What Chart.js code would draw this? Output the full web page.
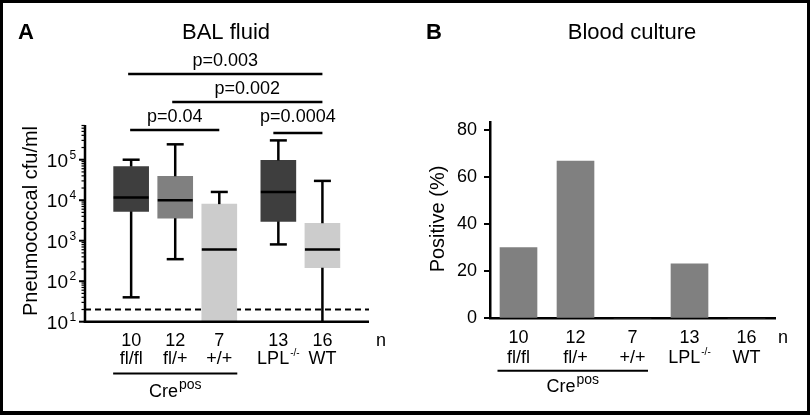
<!DOCTYPE html>
<html><head><meta charset="utf-8">
<script src="https://cdn.jsdelivr.net/npm/chart.js@4.4.1/dist/chart.umd.min.js"></script>
<style>
html,body{margin:0;padding:0;background:#fff;}
#wrap{position:relative;width:810px;height:415px;overflow:hidden;background:#fff;}
canvas{position:absolute;top:0;}
#frame{position:absolute;left:0;top:0;width:810px;height:415px;box-sizing:border-box;border:3px solid #000;border-bottom-width:4px;pointer-events:none;}
</style></head><body>
<div id="wrap">
<canvas id="cA" width="405" height="415" style="left:0;width:405px;height:415px"></canvas>
<canvas id="cB" width="405" height="415" style="left:405px;width:405px;height:415px"></canvas>
<div id="frame"></div>
</div>
<script>
// ---- data ----
const groups = ['fl/fl', 'fl/+', '+/+', 'LPL', 'WT'];
const groupSup = ['', '', '', '-/-', ''];
const nCounts = ['10', '12', '7', '13', '16'];
const groupPos = [1, 2, 3, 4.34, 5.34];
const whiskerLow = [40, 350, 10, 810, 10];
const q1 = [5300, 3600, 10, 3000, 215];
const median = [11700, 10000, 610, 16000, 610];
const q3 = [68000, 39000, 8000, 96000, 2700];
const whiskerHigh = [100000, 240000, 16000, 300000, 30000];
const detectionLimit = 20;
const logTickExps = [1, 2, 3, 4, 5];
const pFrom = [0, 1, 0, 3];
const pTo = [4, 4, 2, 4];
const pLabels = ['p=0.003', 'p=0.002', 'p=0.04', 'p=0.0004'];
const bloodPositive = [30, 66.7, 0, 23.1, 0];
const pctTicks = [0, 20, 40, 60, 80];

// ---- styling ----
const FONT = '"Liberation Sans", Arial, Helvetica, sans-serif';
const boxColors = ['#3e3e3e', '#808080', '#cccccc', '#3e3e3e', '#cccccc'];
const barColor = '#808080';

function txt(ctx, s, x, y, size, align, bold) {
  ctx.font = (bold ? 'bold ' : '') + size + 'px ' + FONT;
  ctx.textAlign = align || 'center';
  ctx.textBaseline = 'alphabetic';
  ctx.fillStyle = '#000';
  ctx.fillText(s, x, y);
}
function txtSup(ctx, base, sup, cx, y, size, supSize, rise) {
  ctx.font = size + 'px ' + FONT;
  const w1 = ctx.measureText(base).width;
  ctx.font = supSize + 'px ' + FONT;
  const w2 = sup ? ctx.measureText(sup).width + 1 : 0;
  const start = cx - (w1 + w2) / 2;
  txt(ctx, base, start, y, size, 'left');
  if (sup) txt(ctx, sup, start + w1 + 1, y - rise, supSize, 'left');
}
function seg(ctx, x1, y1, x2, y2, w) {
  ctx.beginPath(); ctx.moveTo(x1, y1); ctx.lineTo(x2, y2);
  ctx.lineWidth = w; ctx.strokeStyle = '#000'; ctx.setLineDash([]); ctx.stroke();
}
function drawGroupLabels(ctx, xs, o) {
  for (let i = 0; i < groups.length; i++) {
    txt(ctx, nCounts[i], xs[i], o.nY, 18);
    txtSup(ctx, groups[i], groupSup[i], xs[i], o.gY, 18, 10, 8);
  }
  txt(ctx, 'n', o.nX, o.nY, 18);
  seg(ctx, xs[0] + o.lineL, o.lineY, xs[2] + o.lineR, o.lineY, 2);
  txtSup(ctx, 'Cre', 'pos', (xs[0] + o.lineL + xs[2] + o.lineR) / 2, o.creY, 18, 14, 8);
}
function rotText(ctx, s, x, y, size) {
  ctx.save(); ctx.translate(x, y); ctx.rotate(-Math.PI / 2);
  txt(ctx, s, 0, 0, size, 'center'); ctx.restore();
}

// ---- Panel A: box plot ----
const boxPlugin = {
  id: 'boxPlugin',
  beforeDatasetsDraw(chart) {
    const ctx = chart.ctx, a = chart.chartArea, ys = chart.scales.y;
    const yd = ys.getPixelForValue(detectionLimit);
    ctx.save();
    ctx.beginPath(); ctx.setLineDash([6, 4]); ctx.lineWidth = 2; ctx.strokeStyle = '#000';
    ctx.moveTo(a.left, yd); ctx.lineTo(a.right, yd); ctx.stroke();
    ctx.restore();
  },
  afterDatasetsDraw(chart) {
    const ctx = chart.ctx, a = chart.chartArea, xs = chart.scales.x, ys = chart.scales.y;
    ctx.save();
    const px = groupPos.map(v => xs.getPixelForValue(v));
    // whiskers + medians
    for (let i = 0; i < groups.length; i++) {
      const x = px[i];
      const yHi = ys.getPixelForValue(whiskerHigh[i]);
      const yQ3 = ys.getPixelForValue(q3[i]);
      const yQ1 = ys.getPixelForValue(q1[i]);
      const yLo = ys.getPixelForValue(whiskerLow[i]);
      const yMed = ys.getPixelForValue(median[i]);
      seg(ctx, x, yQ3, x, yHi, 2.5);
      seg(ctx, x - 8.5, yHi, x + 8.5, yHi, 2.5);
      if (whiskerLow[i] < q1[i]) {
        seg(ctx, x, yQ1, x, yLo, 2.5);
        if (whiskerLow[i] > ys.min) seg(ctx, x - 8.5, yLo, x + 8.5, yLo, 2.5);
      }
      seg(ctx, x - 17.5, yMed, x + 17.5, yMed, 2.5);
    }
    // axes
    seg(ctx, a.left, a.top, a.left, a.bottom + 1.2, 2.5);
    seg(ctx, a.left - 1.2, a.bottom, a.right, a.bottom, 2.5);
    // log ticks
    for (const e of logTickExps) {
      const major = Math.pow(10, e);
      const y = ys.getPixelForValue(major);
      seg(ctx, a.left - 6, y, a.left, y, 2);
      txt(ctx, '10', 68, y + 7, 19, 'right');
      txt(ctx, String(e), 69.5, y - 1, 12, 'left');
      for (let m = 2; m <= 9; m++) {
        const v = m * major;
        if (v > ys.max) break;
        const ym = ys.getPixelForValue(v);
        seg(ctx, a.left - 3.5, ym, a.left, ym, 1.2);
      }
    }
    // significance brackets
    const bracketY = [74, 102, 130, 133];
    const bracketL = [-3, -3, -1, -5];
    const textY = [65.5, 93.5, 121.5, 121.5];
    for (let k = 0; k < pLabels.length; k++) {
      const x1 = px[pFrom[k]] + bracketL[k], x2 = px[pTo[k]];
      seg(ctx, x1, bracketY[k], x2, bracketY[k], 2.5);
      txt(ctx, pLabels[k], (x1 + x2) / 2, textY[k], 18);
    }
    // group labels
    drawGroupLabels(ctx, px, { nY: 346, gY: 364, nX: 381, lineY: 373.5, lineL: -18, lineR: 18, creY: 397 });
    // titles
    txt(ctx, 'BAL fluid', 226, 39, 22);
    txt(ctx, 'A', 26, 38.5, 22, 'center', true);
    rotText(ctx, 'Pneumococcal cfu/ml', 37, 221, 20);
    ctx.restore();
  }
};

const chartA = new Chart(document.getElementById('cA'), {
  type: 'bar',
  data: {
    datasets: [{
      data: groupPos.map((p, i) => ({ x: p, y: [q1[i], q3[i]] })),
      backgroundColor: boxColors,
      borderWidth: 0,
      barThickness: 35
    }]
  },
  options: {
    responsive: false, animation: false,
    layout: { padding: { left: 85, right: 36, top: 125, bottom: 93.3 } },
    plugins: { legend: { display: false }, tooltip: { enabled: false } },
    scales: {
      x: { type: 'linear', min: 0.49, max: 5.86, display: false },
      y: { type: 'logarithmic', min: 10, max: 720000, display: false }
    }
  },
  plugins: [boxPlugin]
});

// ---- Panel B: bar chart ----
const barPlugin = {
  id: 'barPlugin',
  afterDraw(chart) {
    const ctx = chart.ctx, xs = chart.scales.x;
    ctx.save();
    const px = groups.map((g, i) => xs.getPixelForValue(i));
    drawGroupLabels(ctx, px, { nY: 342.5, gY: 363, nX: 378, lineY: 370.7, lineL: -21, lineR: 15.5, creY: 391.5 });
    txt(ctx, 'Blood culture', 227, 39, 22);
    txt(ctx, 'B', 29, 38.5, 22, 'center', true);
    rotText(ctx, 'Positive (%)', 39, 219, 20);
    ctx.restore();
  }
};

const chartB = new Chart(document.getElementById('cB'), {
  type: 'bar',
  data: {
    labels: groups,
    datasets: [{ data: bloodPositive, backgroundColor: barColor, borderWidth: 0, barThickness: 37 }]
  },
  options: {
    responsive: false, animation: false,
    layout: { padding: { left: 0, right: 35, top: 122.7, bottom: 0 } },
    plugins: { legend: { display: false }, tooltip: { enabled: false } },
    scales: {
      x: {
        type: 'category',
        grid: { display: false },
        border: { display: true, color: '#000', width: 2.5 },
        ticks: { display: false },
        afterFit(s) { s.height = 96.7; }
      },
      y: {
        min: 0, max: 83,
        afterBuildTicks(s) { s.ticks = pctTicks.map(v => ({ value: v })); },
        grid: { display: true, drawOnChartArea: false, drawTicks: true, tickLength: 6, color: '#000', lineWidth: 2 },
        border: { display: true, color: '#000', width: 2.5 },
        ticks: { color: '#000', font: { size: 18, family: FONT }, padding: 7 },
        afterFit(s) { s.width = 85; }
      }
    }
  },
  plugins: [barPlugin]
});
</script>
</body></html>
